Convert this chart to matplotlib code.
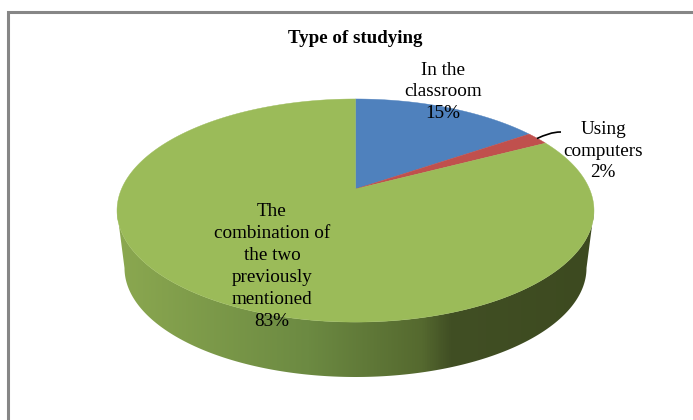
import numpy as np
import matplotlib
matplotlib.use("Agg")
import matplotlib.pyplot as plt
from matplotlib.colors import LinearSegmentedColormap
from matplotlib.patches import Polygon, PathPatch
from matplotlib.path import Path

# data
categories = ["In the\nclassroom", "Using\ncomputers", "The\ncombination of\nthe two\npreviously\nmentioned"]
values = [15.4, 1.9, 82.7]
pct_labels = ["15%", "2%", "83%"]
colors = ["#4F81BD", "#C0504D", "#9BBB59"]
title = "Type of studying"

plt.rcParams["font.family"] = ["Liberation Serif", "DejaVu Serif"]
fig = plt.figure(figsize=(6.93, 4.2), dpi=100, facecolor="white")
ax = fig.add_axes([0, 0, 1, 1])
ax.set_xlim(0, 693)
ax.set_ylim(420, 0)
ax.axis("off")

# perspective layout of the disc
CX, CY = 355.5, 189
K, A, B = 0.193, 107.4, 234


def project(t):
    """t = clockwise angle from 12 o'clock, radians; returns outline pixels"""
    u, v = np.sin(t), np.cos(t)
    d = 1 + K * v
    return CX + B * u / d, CY - A * v / d


# frame
ax.plot([8, 8, 693], [420, 11.5, 11.5], color="#868686", lw=2.2, solid_joinstyle="miter", zorder=1)

# side wall with gradient
rx_b, ry_b, cy_b = 231, 109, 268
theta = np.linspace(0, np.pi, 200)
bx = CX + rx_b * np.cos(theta)
by = cy_b + ry_b * np.sin(theta)
tt = np.linspace(0, 2 * np.pi, 720)
ox, oy = project(tt)
left, right = np.argmin(ox), np.argmax(ox)
fx, fy = project(tt[right:left + 1])
# outline: top front arc from right to left, then bottom arc from left to right
side = np.vstack([np.column_stack([fx, fy]), np.column_stack([bx[::-1], by[::-1]])])
cmap = LinearSegmentedColormap.from_list(
    "wall", [(0, "#8BA850"), (0.40, "#6C8A42"), (0.64, "#55692F"), (0.70, "#414F24"), (1, "#3D4A20")]
)
im = ax.imshow(np.linspace(0, 1, 476)[None, :], cmap=cmap, extent=[117, 594, 420, 0], aspect="auto", zorder=2)
clip = Polygon(side, closed=True, transform=ax.transData, fc="none", ec="none")
ax.add_patch(clip)
im.set_clip_path(clip)
ax.set_xlim(0, 693)
ax.set_ylim(420, 0)

# top face, angles from the values
edges = np.concatenate([[0], np.cumsum(values)]) / np.sum(values) * 2 * np.pi
for a0, a1, c in zip(edges[:-1], edges[1:], colors):
    t = np.linspace(a0, a1, max(int((a1 - a0) * 80), 8))
    x, y = project(t)
    pts = np.vstack([[CX, CY], np.column_stack([x, y])])
    ax.add_patch(Polygon(pts, closed=True, fc=c, ec=c, lw=0.3, zorder=3))

# leader line
lp = Path([(537, 138.5), (545, 135), (552, 132), (561, 132)], [Path.MOVETO, Path.CURVE4, Path.CURVE4, Path.CURVE4])
ax.add_patch(PathPatch(lp, fc="none", ec="black", lw=1.2, zorder=4))

# text
ax.text(355.5, 38.5, title, ha="center", va="center", fontsize=13.6, fontweight="bold", color="black", zorder=5)
positions = [(443, 92), (603, 151), (272, 266.5)]
for (x, y), cat, pct in zip(positions, categories, pct_labels):
    ax.text(x, y, f"{cat}\n{pct}", ha="center", va="center", fontsize=13.8, color="black",
            linespacing=1.38, multialignment="center", zorder=5)

fig.savefig("out.png", dpi=100, facecolor="white")
